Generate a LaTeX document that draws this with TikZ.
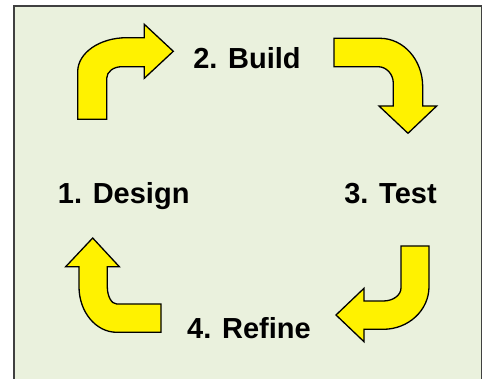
\documentclass[tikz,border=0pt]{standalone}
\usepackage{fontspec}
\setmainfont{Liberation Sans}
\definecolor{panel}{RGB}{234,241,221}
\definecolor{frame}{RGB}{64,64,64}
\tikzset{
  blockarrow/.style={fill=yellow, draw=black, line width=1.3pt, line join=miter},
  stage/.style={font=\bfseries\fontsize{29}{34}\selectfont, inner sep=0pt, anchor=base}
}
\begin{document}
\begin{tikzpicture}[x=1pt,y=-1pt]
\useasboundingbox (0,0) rectangle (483,379);
\clip (0,0) rectangle (483,379);
\fill[white] (0,0) rectangle (483,379);
\draw[frame, fill=panel, line width=1.5pt] (14,6) rectangle (481.5,400);
% stages
\node[stage] (design) at (123.7,204) {1. Design};
\node[stage] (build) at (247,69) {2. Build};
\node[stage] (test) at (390.5,204) {3. Test};
\node[stage] (refine) at (249,338.3) {4. Refine};
% bent arrows
\draw[blockarrow] (77.7,119.3) -- (77.7,71.7) .. controls (77.7,52.9) and (99.6,37.7) .. (126.7,37.7)
  -- (144.3,37.7) -- (144.3,24.3) -- (173.3,51.3) -- (144.3,78.3) -- (144.3,66.7) -- (121.7,66.7)
  .. controls (113.4,66.7) and (106.7,71.9) .. (106.7,78.3) -- (106.7,119.3) -- cycle;
\draw[blockarrow] (334,38.3) -- (380,38.3) .. controls (403.6,38.3) and (422.7,60) .. (422.7,86.7)
  -- (422.7,106) -- (436.7,106) -- (408,133.3) -- (379,106) -- (393.3,106) -- (393.3,83.3)
  .. controls (393.3,74.1) and (386.4,66.7) .. (378,66.7) -- (334,66.7) -- cycle;
\draw[blockarrow] (401,246) -- (429,246) -- (429,286.7) .. controls (429,310.2) and (408.5,329.3) .. (383.3,329.3)
  -- (364,329.3) -- (364,341.7) -- (336,315) -- (364,288.3) -- (364,301) -- (383.3,301)
  .. controls (393.1,301) and (401,295.2) .. (401,288) -- cycle;
\draw[blockarrow] (161,304) -- (161,332.3) -- (116.7,332.3) .. controls (95.9,332.3) and (79,311.9) .. (79,286.7)
  -- (79,266.7) -- (65.7,266.7) -- (92.7,238) -- (119.3,266.7) -- (107.3,266.7) -- (107.3,286.7)
  .. controls (107.3,296.2) and (111.5,304) .. (116.7,304) -- cycle;
\end{tikzpicture}
\end{document}
